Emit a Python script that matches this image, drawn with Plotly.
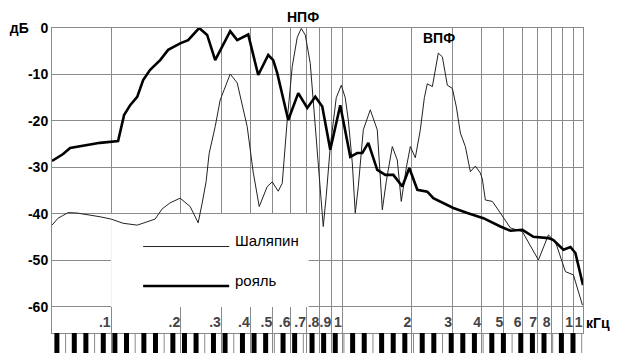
import numpy as np
import plotly.graph_objects as go

# ---------------- data ----------------
piano_khz = [0.0555, 0.0620, 0.0665, 0.0811, 0.0896, 0.1072, 0.1138, 0.1209, 0.1297, 0.1376,
             0.1475, 0.1630, 0.1765, 0.1989, 0.2154, 0.2404, 0.2603, 0.2820, 0.3275, 0.3511,
             0.3918, 0.4329, 0.4783, 0.5027, 0.5232, 0.5838, 0.6451, 0.7055, 0.7643, 0.8193,
             0.8873, 0.9802, 1.083, 1.161, 1.221, 1.296, 1.417, 1.535, 1.663, 1.819,
             1.950, 2.112, 2.333, 2.477, 3.023, 3.476, 4.077, 4.831, 5.337, 6.015,
             6.713, 7.795, 8.193, 9.051, 9.706, 10.20, 11.0]
piano_db = [-28.6, -27.1, -25.8, -25.0, -24.7, -24.3, -18.7, -16.6, -14.8, -11.2,
            -9.0, -6.9, -4.7, -3.3, -2.6, 0.0, -1.5, -6.9, -0.7, -2.6,
            -1.4, -10.1, -5.8, -6.9, -9.7, -19.8, -14.0, -17.2, -14.8, -16.9,
            -26.2, -16.6, -27.7, -26.9, -26.9, -24.7, -30.5, -31.6, -31.6, -34.1,
            -30.1, -34.8, -35.2, -36.6, -38.7, -39.8, -40.9, -42.7, -43.6, -43.4,
            -44.9, -45.2, -45.6, -47.7, -47.1, -48.4, -55.3]

chaliapin_khz = [0.0555, 0.0590, 0.0652, 0.0713, 0.0896, 0.1000, 0.1127, 0.1297, 0.1550, 0.1663,
                 0.1800, 0.1989, 0.2198, 0.2380, 0.2476, 0.2577, 0.2655, 0.2820, 0.2963, 0.3275,
                 0.3511, 0.3879, 0.4118, 0.4372, 0.4736, 0.4977, 0.5284, 0.5498, 0.5609, 0.5780,
                 0.6075, 0.6387, 0.6646, 0.6917, 0.7270, 0.7793, 0.8112, 0.8274, 0.8527, 0.8873,
                 0.9419, 0.9901, 1.030, 1.062, 1.105, 1.138, 1.173, 1.233, 1.322, 1.417,
                 1.460, 1.490, 1.550, 1.646, 1.730, 1.800, 1.893, 1.970, 2.070, 2.176,
                 2.265, 2.333, 2.453, 2.527, 2.603, 2.710, 2.848, 2.994, 3.116, 3.243,
                 3.408, 3.582, 3.766, 3.958, 4.037, 4.159, 4.461, 4.831, 5.337, 6.015,
                 7.056, 7.795, 8.359, 9.234, 10.0, 10.94]
chaliapin_db = [-42.4, -40.9, -39.7, -39.8, -40.6, -41.1, -42.0, -42.4, -41.1, -38.9,
                -37.6, -36.6, -38.4, -41.9, -37.7, -33.0, -27.0, -21.2, -15.5, -9.9,
                -11.8, -21.2, -31.0, -38.4, -34.1, -33.1, -35.1, -33.4, -28.0, -19.8,
                -8.3, -2.0, -0.1, -1.5, -7.6, -26.9, -38.0, -42.7, -36.0, -25.5,
                -15.0, -12.3, -15.0, -19.8, -29.0, -39.8, -34.1, -21.9, -17.6, -21.9,
                -32.0, -39.1, -33.0, -25.5, -28.4, -37.3, -30.0, -25.5, -27.9, -21.9,
                -15.0, -12.0, -12.6, -9.0, -5.4, -6.2, -12.3, -13.0, -17.0, -22.6,
                -25.5, -30.9, -29.7, -31.2, -32.5, -37.0, -37.3, -39.8, -43.0, -43.8,
                -49.9, -44.5, -46.0, -52.4, -53.1, -59.6]

x_tick_vals = [0.1, 0.2, 0.3, 0.4, 0.5, 0.6, 0.7, 0.8, 0.9,
               1, 2, 3, 4, 5, 6, 7, 8, 9, 10, 11]
x_tick_text = [".1", ".2", ".3", ".4", ".5", ".6", ".7", ".8", ".9",
               "1", "2", "3", "4", "5", "6", "7", "8", "", "1", "1"]
y_tick_vals = [0, -10, -20, -30, -40, -50, -60]
y_tick_text = ["дБ\u00a0\u00a0\u00a00", "-10", "-20", "-30", "-40", "-50", "-60"]

series_names = ["Шаляпин", "рояль"]

# piano keyboard decoration (A1 = 55 Hz upwards, in semitones)
keyboard_low_khz = 0.055
black_in_octave = [1, 4, 6, 9, 11]      # A#, C#, D#, F#, G# relative to A
gap_in_octave = [2.5, 7.5]              # B|C and E|F borders
n_semitones = 92

# ---------------- figure ----------------
GRID = "#8a8a8a"
FONT = "Liberation Sans"

fig = go.Figure()

fig.add_trace(go.Scatter(x=chaliapin_khz, y=chaliapin_db, mode="lines",
                         line=dict(color="#222222", width=1), name=series_names[0],
                         showlegend=False))
fig.add_trace(go.Scatter(x=piano_khz, y=piano_db, mode="lines",
                         line=dict(color="black", width=2.6), name=series_names[1],
                         showlegend=False))

black_keys = [keyboard_low_khz * 2 ** ((12 * o + s) / 12)
              for o in range(9) for s in black_in_octave if 12 * o + s <= n_semitones]
gaps = [keyboard_low_khz * 2 ** ((12 * o + s) / 12)
        for o in range(9) for s in gap_in_octave if 12 * o + s <= n_semitones]

fig.add_trace(go.Scatter(x=gaps, y=[0.5] * len(gaps), mode="markers", xaxis="x", yaxis="y2",
                         marker=dict(symbol="line-ns", size=20,
                                     line=dict(color=GRID, width=1)),
                         showlegend=False, hoverinfo="skip"))
fig.add_trace(go.Scatter(x=black_keys, y=[0.5] * len(black_keys), mode="markers",
                         xaxis="x", yaxis="y2",
                         marker=dict(symbol="line-ns", size=20,
                                     line=dict(color="black", width=5)),
                         showlegend=False, hoverinfo="skip"))

W, H = 617, 353
top, kb = 28, 20
plot_h = H - top
split = kb / plot_h

fig.update_layout(
    template="none",
    width=W, height=H,
    margin=dict(l=52, r=34, t=top, b=0, autoexpand=False),
    paper_bgcolor="white", plot_bgcolor="white",
    font=dict(family=FONT, size=14, color="black"),
    showlegend=False,
    xaxis=dict(type="log", range=[np.log10(0.0555), np.log10(11.0)],
               tickvals=x_tick_vals, ticktext=x_tick_text, tickangle=0,
               ticklabelposition="inside left", ticks="",
               tickfont=dict(family=FONT, size=14, weight="bold"),
               showgrid=True, gridcolor=GRID, gridwidth=1,
               showline=True, linecolor=GRID, linewidth=1, mirror=True,
               zeroline=False, anchor="y", automargin=False),
    yaxis=dict(range=[-65.6, 0], domain=[split, 1],
               tickvals=y_tick_vals, ticktext=y_tick_text, ticks="",
               tickfont=dict(family=FONT, size=14, weight="bold"),
               showgrid=True, gridcolor=GRID, gridwidth=1,
               showline=True, linecolor=GRID, linewidth=1, mirror=True,
               zeroline=False, automargin=False),
    yaxis2=dict(range=[0, 1], domain=[0, split], showgrid=False, showticklabels=False,
                zeroline=False, showline=False, anchor="x", automargin=False),
)

# legend box (white, hides the grid under it)
fig.add_shape(type="rect", xref="x", yref="y", x0=0.1, x1=0.715, y0=-60, y1=-40,
              fillcolor="white", line=dict(width=0), layer="between")
# legend samples
fig.add_shape(type="line", xref="x", yref="y", x0=0.1376, x1=0.3242, y0=-47.0, y1=-47.0,
              line=dict(color="#222222", width=1))
fig.add_shape(type="line", xref="x", yref="y", x0=0.1376, x1=0.3242, y0=-55.5, y1=-55.5,
              line=dict(color="black", width=2.6))
fig.add_annotation(x=np.log10(0.337), y=-45.8, xref="x", yref="y", text=series_names[0],
                   showarrow=False, xanchor="left", yanchor="middle",
                   font=dict(family=FONT, size=15))
fig.add_annotation(x=np.log10(0.337), y=-54.4, xref="x", yref="y", text=series_names[1],
                   showarrow=False, xanchor="left", yanchor="middle",
                   font=dict(family=FONT, size=15))

# labels
fig.add_annotation(x=np.log10(0.678), y=1.034, xref="x", yref="paper", text="НПФ",
                   showarrow=False, yanchor="middle",
                   font=dict(family=FONT, size=14, weight="bold"))
fig.add_annotation(x=np.log10(2.63), y=-2.2, xref="x", yref="y", text="ВПФ",
                   showarrow=False, font=dict(family=FONT, size=14, weight="bold"))
fig.add_annotation(x=1.0, y=-63.5, xref="paper", yref="y", text="кГц",
                   showarrow=False, xanchor="left", xshift=1, yanchor="middle",
                   font=dict(family=FONT, size=14, weight="bold"))

fig.write_html("out.html", config={"displayModeBar": False},
               post_script="document.body.style.margin='0';document.body.style.overflow='hidden';")
